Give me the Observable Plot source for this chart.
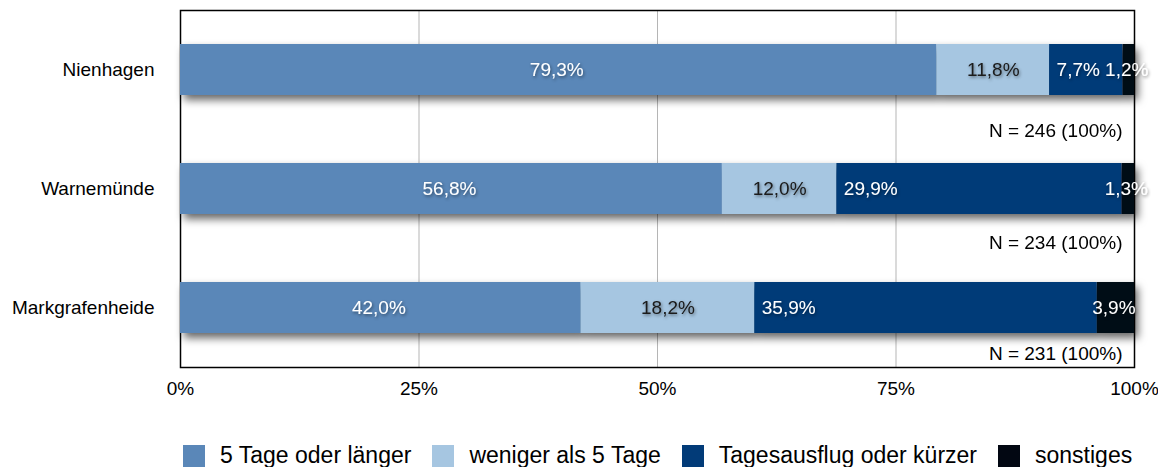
<!DOCTYPE html>
<html>
<head>
<meta charset="utf-8">
<script src="https://cdn.jsdelivr.net/npm/d3@7"></script>
<script src="https://cdn.jsdelivr.net/npm/@observablehq/plot@0.6"></script>
<style>
  html, body { margin: 0; padding: 0; background: #fff; }
  body { font-family: "Liberation Sans", Arial, sans-serif; width: 1158px; height: 467px; overflow: hidden; }
  #legend { display: flex; align-items: center; padding-left: 183px; padding-top: 22px; font-size: 23px; color: #000; }
  .item { display: flex; align-items: center; margin-right: 21px; }
  .sw { width: 22px; height: 22px; margin-right: 15px; }
</style>
</head>
<body>
<div id="chart"></div>
<div id="legend"></div>
<script>
const categories = ["Nienhagen", "Warnemünde", "Markgrafenheide"];
const seriesNames = ["5 Tage oder länger", "weniger als 5 Tage", "Tagesausflug oder kürzer", "sonstiges"];
const seriesColors = ["#5a87b8", "#a6c6e1", "#023b78", "#020712"];
const valuesNienhagen = [79.3, 11.8, 7.7, 1.2];
const valuesWarnemuende = [56.8, 12.0, 29.9, 1.3];
const valuesMarkgrafenheide = [42.0, 18.2, 35.9, 3.9];
const nValues = [246, 234, 231];
const xTicks = [0, 25, 50, 75, 100];
const gridTicks = [25, 50, 75];

const valueRows = [valuesNienhagen, valuesWarnemuende, valuesMarkgrafenheide];
const rows = [];
categories.forEach((cat, ci) => {
  let acc = 0;
  valueRows[ci].forEach((v, si) => {
    rows.push({cat, series: seriesNames[si], si, value: v, x1: acc, x2: acc + v});
    acc += v;
  });
});
const fmt = v => v.toFixed(1).replace(".", ",") + "%";
const nRows = categories.map((cat, i) => ({cat, label: `N = ${nValues[i]} (100%)`}));

const plot = Plot.plot({
  width: 1158,
  height: 420,
  marginLeft: 180,
  marginRight: 24,
  marginTop: 10,
  marginBottom: 53,
  style: {fontFamily: "'Liberation Sans', Arial, sans-serif", fontSize: "19px", color: "#000", background: "#fff"},
  x: {domain: [0, 100], ticks: xTicks, tickFormat: d => d + "%", tickSize: 0, tickPadding: 14, label: null},
  y: {domain: categories, paddingInner: 0.57, paddingOuter: 0.285, tickSize: 0, tickPadding: 26, label: null},
  color: {domain: seriesNames, range: seriesColors},
  marks: [
    Plot.ruleX(gridTicks, {stroke: "#b5b5b5", strokeWidth: 1}),
    Plot.frame({stroke: "#000", strokeWidth: 1.5}),
    Plot.barX(rows, {x1: "x1", x2: "x2", y: "cat", fill: "series"}),
    Plot.text(rows.filter(d => d.si === 0 || d.si === 3), {x: d => (d.x1 + d.x2) / 2, y: "cat", text: d => fmt(d.value), fill: "#fff", dx: -2}),
    Plot.text(rows.filter(d => d.si === 1), {x: d => (d.x1 + d.x2) / 2, y: "cat", text: d => fmt(d.value), fill: "#1a1a1a"}),
    Plot.text(rows.filter(d => d.si === 2), {x: "x1", y: "cat", text: d => fmt(d.value), fill: "#fff", textAnchor: "start", dx: 7}),
    Plot.text(nRows.slice(0, 1), {x: () => 100, y: "cat", text: "label", textAnchor: "end", dx: -12, dy: 61, fill: "#000"}),
    Plot.text(nRows.slice(1, 2), {x: () => 100, y: "cat", text: "label", textAnchor: "end", dx: -12, dy: 54, fill: "#000"}),
    Plot.text(nRows.slice(2, 3), {x: () => 100, y: "cat", text: "label", textAnchor: "end", dx: -12, dy: 46, fill: "#000"})
  ]
});
document.getElementById("chart").appendChild(plot);

// shadows
const svg = d3.select(plot);
const defs = svg.insert("defs", ":first-child");
defs.append("filter").attr("id", "barShadow").attr("x", "-5%").attr("y", "-30%").attr("width", "115%").attr("height", "180%")
  .append("feDropShadow").attr("dx", 4).attr("dy", 5).attr("stdDeviation", 4).attr("flood-color", "#000").attr("flood-opacity", 0.6);
defs.append("filter").attr("id", "textShadow").attr("x", "-20%").attr("y", "-40%").attr("width", "140%").attr("height", "180%")
  .append("feDropShadow").attr("dx", 1).attr("dy", 1.5).attr("stdDeviation", 1.5).attr("flood-color", "#000").attr("flood-opacity", 0.45);
svg.selectAll('g[aria-label="bar"]').attr("filter", "url(#barShadow)");
svg.selectAll('g[aria-label="text"]').each(function(d, i) { if (i < 3) d3.select(this).attr("filter", "url(#textShadow)"); });

// legend
const legend = d3.select("#legend");
seriesNames.forEach((name, i) => {
  const item = legend.append("div").attr("class", "item");
  item.append("div").attr("class", "sw").style("background", seriesColors[i]);
  item.append("span").text(name);
});
</script>
</body>
</html>
